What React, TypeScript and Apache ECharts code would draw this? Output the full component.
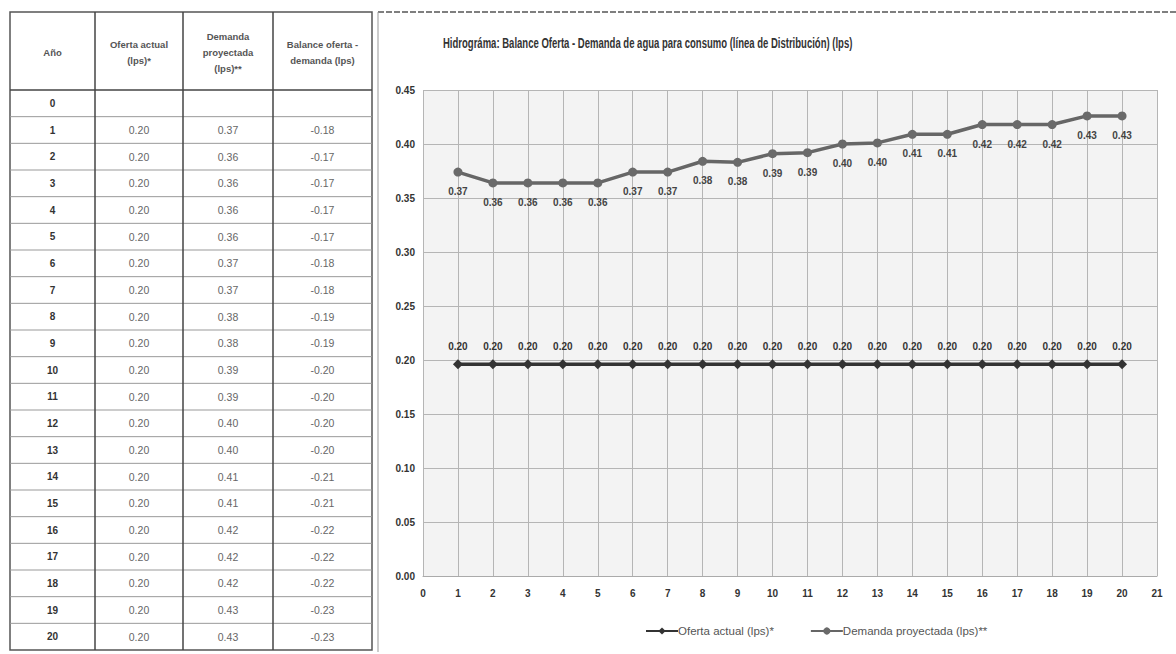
import React, { useEffect, useRef } from "react";
import * as echarts from "echarts";

// ---- Table data (as printed) ----
const tableYears = ["0", "1", "2", "3", "4", "5", "6", "7", "8", "9", "10", "11", "12", "13", "14", "15", "16", "17", "18", "19", "20"];
const tableOferta = ["", "0.20", "0.20", "0.20", "0.20", "0.20", "0.20", "0.20", "0.20", "0.20", "0.20", "0.20", "0.20", "0.20", "0.20", "0.20", "0.20", "0.20", "0.20", "0.20", "0.20"];
const tableDemanda = ["", "0.37", "0.36", "0.36", "0.36", "0.36", "0.37", "0.37", "0.38", "0.38", "0.39", "0.39", "0.40", "0.40", "0.41", "0.41", "0.42", "0.42", "0.42", "0.43", "0.43"];
const tableBalance = ["", "-0.18", "-0.17", "-0.17", "-0.17", "-0.17", "-0.18", "-0.18", "-0.19", "-0.19", "-0.20", "-0.20", "-0.20", "-0.20", "-0.21", "-0.21", "-0.22", "-0.22", "-0.22", "-0.23", "-0.23"];
const tableHeaders = ["Año", "Oferta actual\n(lps)*", "Demanda\nproyectada\n(lps)**", "Balance oferta -\ndemanda (lps)"];

// ---- Chart data ----
const chartYears = [1, 2, 3, 4, 5, 6, 7, 8, 9, 10, 11, 12, 13, 14, 15, 16, 17, 18, 19, 20];
const ofertaValues = [0.196, 0.196, 0.196, 0.196, 0.196, 0.196, 0.196, 0.196, 0.196, 0.196, 0.196, 0.196, 0.196, 0.196, 0.196, 0.196, 0.196, 0.196, 0.196, 0.196];
const demandaValues = [0.374, 0.364, 0.364, 0.364, 0.364, 0.374, 0.374, 0.384, 0.383, 0.391, 0.392, 0.4, 0.401, 0.409, 0.409, 0.418, 0.418, 0.418, 0.426, 0.426];
const seriesNames = ["Oferta actual (lps)*", "Demanda proyectada (lps)**"];
const titleText = "Hidrográma: Balance Oferta - Demanda de agua para consumo (línea de Distribución) (lps)";

const sans = "'Liberation Sans', Arial, sans-serif";

function buildTable(): any[] {
  const colX = [10, 95, 183, 273, 372];
  const top = 12;
  const headerBottom = 90;
  const bottom = 650;
  const rowH = (bottom - headerBottom) / tableYears.length;
  const els: any[] = [];
  els.push({ type: "rect", shape: { x: colX[0], y: top, width: colX[4] - colX[0], height: bottom - top }, style: { fill: "#fff", stroke: "#555", lineWidth: 1.5 } });
  for (let c = 0; c < 4; c++) {
    els.push({
      type: "text",
      x: (colX[c] + colX[c + 1]) / 2,
      y: (top + headerBottom) / 2 + 1,
      style: { text: tableHeaders[c], fill: "#555", font: `bold 9.5px ${sans}`, align: "center", verticalAlign: "middle", lineHeight: 16 },
    });
  }
  els.push({ type: "line", shape: { x1: colX[0], y1: headerBottom, x2: colX[4], y2: headerBottom }, style: { stroke: "#444", lineWidth: 1.5 } });
  for (let r = 1; r < tableYears.length; r++) {
    const y = headerBottom + r * rowH;
    els.push({ type: "line", shape: { x1: colX[0], y1: y, x2: colX[4], y2: y }, style: { stroke: "#999", lineWidth: 1 } });
  }
  for (let c = 1; c < 4; c++) {
    els.push({ type: "line", shape: { x1: colX[c], y1: top, x2: colX[c], y2: bottom }, style: { stroke: "#444", lineWidth: 1.5 } });
  }
  const cols = [tableYears, tableOferta, tableDemanda, tableBalance];
  for (let r = 0; r < tableYears.length; r++) {
    const cy = headerBottom + (r + 0.5) * rowH;
    for (let c = 0; c < 4; c++) {
      const txt = cols[c][r];
      if (!txt) continue;
      els.push({
        type: "text",
        x: (colX[c] + colX[c + 1]) / 2,
        y: cy,
        style: {
          text: txt,
          fill: c === 0 ? "#333" : "#666",
          font: c === 0 ? `bold 10px ${sans}` : `10.5px ${sans}`,
          align: "center",
          verticalAlign: "middle",
        },
      });
    }
  }
  return els;
}

export default function App() {
  const ref = useRef<HTMLDivElement>(null);
  useEffect(() => {
    if (!ref.current) return;
    const chart = echarts.init(ref.current, null, { renderer: "svg" });
    const option: any = {
      animation: false,
      backgroundColor: "#fff",
      grid: { left: 423, top: 90, right: 19, bottom: 78, show: true, backgroundColor: "#f3f3f3", borderWidth: 0 },
      legend: {
        data: seriesNames,
        left: 640,
        top: 620,
        itemWidth: 32,
        itemHeight: 9,
        itemGap: 36,
        textStyle: { fontFamily: sans, fontSize: 11.5, color: "#555", padding: [0, 0, 0, -5] },
      },
      xAxis: {
        type: "value",
        min: 0,
        max: 21,
        interval: 1,
        axisLine: { show: true, lineStyle: { color: "#aaa" } },
        axisTick: { show: false },
        axisLabel: { color: "#333", fontWeight: "bold", fontSize: 10, fontFamily: sans, margin: 12 },
        splitLine: { show: true, lineStyle: { color: "#b5b5b5", width: 1 } },
      },
      yAxis: {
        type: "value",
        min: 0,
        max: 0.45,
        interval: 0.05,
        axisLine: { show: false },
        axisTick: { show: false },
        axisLabel: { color: "#333", fontWeight: "bold", fontSize: 10, fontFamily: sans, margin: 8, formatter: (v: number) => v.toFixed(2) },
        splitLine: { show: true, lineStyle: { color: "#b5b5b5", width: 1 } },
      },
      graphic: [
        ...buildTable(),
        { type: "line", shape: { x1: 378, y1: 12, x2: 1176, y2: 12 }, style: { stroke: "#555", lineWidth: 1.5, lineDash: [6, 2] } },
        { type: "line", shape: { x1: 378, y1: 12, x2: 378, y2: 652 }, style: { stroke: "#999", lineWidth: 1 } },
        {
          type: "text",
          x: 443,
          y: 43,
          scaleX: 0.68,
          style: { text: titleText, fill: "#333", font: `bold 14px ${sans}`, align: "left", verticalAlign: "middle" },
        },
      ],
      series: [
        {
          name: seriesNames[0],
          type: "line",
          data: chartYears.map((x, i) => [x, ofertaValues[i]]),
          symbol: "diamond",
          symbolSize: 10,
          lineStyle: { color: "#333", width: 3.5 },
          itemStyle: { color: "#333" },
          label: {
            show: true,
            position: "top",
            distance: 8,
            color: "#333",
            fontWeight: "bold",
            fontSize: 10,
            fontFamily: sans,
            formatter: (p: any) => p.value[1].toFixed(2),
          },
        },
        {
          name: seriesNames[1],
          type: "line",
          data: chartYears.map((x, i) => [x, demandaValues[i]]),
          symbol: "circle",
          symbolSize: 9,
          lineStyle: { color: "#666", width: 3.5 },
          itemStyle: { color: "#6a6a6a" },
          label: {
            show: true,
            position: "bottom",
            distance: 10,
            color: "#444",
            fontWeight: "bold",
            fontSize: 10,
            fontFamily: sans,
            formatter: (p: any) => p.value[1].toFixed(2),
          },
        },
      ],
    };
    chart.setOption(option);
    return () => chart.dispose();
  }, []);
  return <div ref={ref} style={{ position: "fixed", left: 0, top: 0, width: 1176, height: 654 }} />;
}
